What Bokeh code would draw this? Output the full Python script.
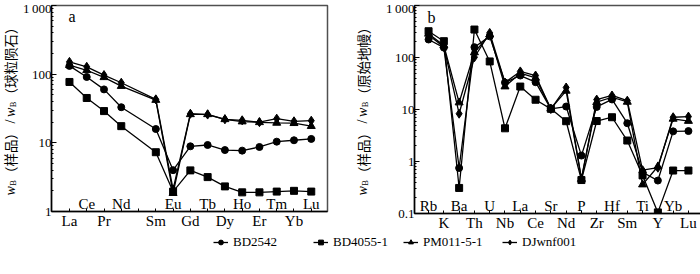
import math
from bokeh.plotting import figure
from bokeh.layouts import row, column
from bokeh.models import Range1d, FixedTicker, Label, Legend, LegendItem
from bokeh.core.properties import value
from bokeh.embed import file_html
from bokeh.resources import INLINE

# ---------------- data ----------------
SERIES = ["BD2542", "BD4055-1", "PM011-5-1", "DJwnf001"]
MARKERS = ["circle", "square", "triangle", "diamond"]
MSIZE = [7, 7, 8, 9]

# panel a: chondrite-normalised REE
REE_AXIS = ["La", "Ce", "Pr", "Nd", "Pm", "Sm", "Eu", "Gd", "Tb", "Dy", "Ho", "Er", "Tm", "Yb", "Lu"]
REE = ["La", "Ce", "Pr", "Nd", "Sm", "Eu", "Gd", "Tb", "Dy", "Ho", "Er", "Tm", "Yb", "Lu"]
REE_LOWER = ["La", "Pr", "Sm", "Gd", "Dy", "Er", "Yb"]
REE_UPPER = ["Ce", "Nd", "Eu", "Tb", "Ho", "Tm", "Lu"]
ree_BD2542 = [132, 91, 60, 33, 15.9, 4.0, 8.9, 9.3, 7.85, 7.7, 8.7, 10.4, 10.9, 11.4]
ree_BD4055 = [77, 45, 29, 17.5, 7.3, 1.95, 3.97, 3.17, 2.32, 1.9, 1.9, 1.95, 2.0, 1.95]
ree_PM011 = [135, 114, 90, 67, 42, 1.85, 26, 26, 22, 20.4, 19.9, 19.5, 19.3, 17.5]
ree_DJwnf = [151, 128, 97, 75, 43, 2.1, 26.5, 25.8, 22, 21.3, 20.0, 22.5, 20.6, 21]
REE_DATA = [ree_BD2542, ree_BD4055, ree_PM011, ree_DJwnf]
YTICKS_A = [1, 10, 100, 1000]

# panel b: primitive-mantle-normalised trace elements
SPIDER = ["Rb", "K", "Ba", "Th", "U", "Nb", "La", "Ce", "Sr", "Nd", "P", "Zr", "Hf", "Sm", "Ti", "Y", "Yb", "Lu"]
SPIDER_UPPER = ["Rb", "Ba", "U", "La", "Sr", "P", "Hf", "Ti", "Yb"]
SPIDER_LOWER = ["K", "Th", "Nb", "Ce", "Nd", "Zr", "Sm", "Y", "Lu"]
sp_BD2542 = [222, 155, 0.75, 158, 255, 33, 45, 33.5, 10.3, 11.4, 1.3, 11.2, 15.6, 5.45, 0.62, 0.43, 3.8, 3.85]
sp_BD4055 = [320, 206, 0.31, 345, 84, 4.35, 27.6, 15.4, 10.3, 5.95, 0.44, 6.0, 7.1, 2.53, 0.54, 0.105, 0.67, 0.67]
sp_PM011 = [285, 170, 13.6, 125, 275, 27.6, 50, 40.5, 10.4, 22.8, 0.46, 13.8, 17.2, 14.0, 0.36, 0.8, 6.6, 6.0]
sp_DJwnf = [270, 160, 8.3, 101, 297, 33, 54, 45, 10.2, 26.5, 0.47, 15.5, 18.6, 14.8, 0.68, 0.76, 7.1, 7.3]
SP_DATA = [sp_BD2542, sp_BD4055, sp_PM011, sp_DJwnf]
YTICKS_B = [0.1, 1, 10, 100, 1000]

SERIF = "Liberation Serif"
CJK = "Noto Sans CJK SC"


def fmt_tick(t):
    if t >= 1000:
        return "1\u2009000"
    return "%g" % t


def minor_ticks(lo, hi):
    out = []
    k = int(round(math.log10(lo)))
    while 10 ** k < hi:
        for m in range(2, 10):
            out.append(m * 10 ** k)
        k += 1
    return out


def make_panel(cats, plotted, lower, upper, data, yticks, xr, fw, fh, left, right, top, bottom):
    p = figure(frame_width=fw, frame_height=fh, x_range=xr,
               y_range=Range1d(yticks[0], yticks[-1]), y_axis_type="log",
               toolbar_location=None, output_backend="svg",
               min_border_left=left, min_border_right=right,
               min_border_top=top, min_border_bottom=bottom)
    p.grid.visible = False
    p.outline_line_color = "#505050"
    p.outline_line_width = 1.5
    p.background_fill_color = "white"
    p.border_fill_color = "white"

    # x axis
    xa = p.xaxis[0]
    xa.ticker = FixedTicker(ticks=list(range(len(cats))))
    xa.major_label_overrides = {i: (c if c in lower else "") for i, c in enumerate(cats)}
    xa.major_tick_in = 3
    xa.major_tick_out = 0
    xa.minor_tick_line_color = None
    xa.axis_line_width = 1.5
    xa.axis_line_color = "black"
    xa.major_label_text_font = SERIF
    xa.major_label_text_font_size = "15px"
    xa.major_label_standoff = 1
    xa.major_label_text_color = "black"

    # y axis
    ya = p.yaxis[0]
    ya.ticker = FixedTicker(ticks=yticks, minor_ticks=minor_ticks(yticks[0], yticks[-1]))
    ya.major_label_overrides = {t: fmt_tick(t) for t in yticks}
    ya.major_tick_in = 5
    ya.major_tick_out = 0
    ya.minor_tick_in = 2
    ya.minor_tick_out = 0
    ya.axis_line_width = 1.5
    ya.axis_line_color = "black"
    ya.major_label_text_font = SERIF
    ya.major_label_text_font_size = "13px"
    ya.major_label_standoff = 0
    ya.major_label_text_color = "black"

    # upper row of category labels (inside the frame)
    ux = [cats.index(c) for c in upper]
    p.text(x=ux, y=[yticks[0]] * len(ux), text=upper,
           text_font=value(SERIF), text_font_size="15px", text_color="black",
           text_align="center", text_baseline="bottom")

    # series
    xs = [cats.index(c) for c in plotted]
    for mk, ms, vals in zip(MARKERS, MSIZE, data):
        p.line(x=xs, y=vals, line_color="black", line_width=1.3)
        p.scatter(x=xs, y=vals, marker=mk, size=ms, fill_color="black",
                  line_color="black", line_width=1)
    return p


def label_strip(width, fh, top, bottom, xc, yc, cjk_text):
    # narrow figure whose frame matches the neighbouring panel's frame;
    # label coordinates are screen px from the frame's bottom-left
    s_fig = figure(width=width, frame_height=fh, x_range=Range1d(0, 1), y_range=Range1d(0, 1),
                   x_axis_location=None, y_axis_location=None, toolbar_location=None,
                   output_backend="svg", min_border_left=0, min_border_right=0,
                   min_border_top=top, min_border_bottom=bottom, outline_line_color=None)
    s_fig.grid.visible = False
    # pieces of "wB（样品）/wB（...）", laid out upward
    pieces = [
        ("w", SERIF, "italic", 14, 9.5, 0),
        ("B", SERIF, "normal", 8.5, 6.0, 2.5),
        ("（样品）", CJK, "normal", 13.5, 13.5 * 4, 0),
        ("/", SERIF, "normal", 14, 9.0, 0),
        ("w", SERIF, "italic", 14, 9.5, 0),
        ("B", SERIF, "normal", 8.5, 6.0, 2.5),
        (cjk_text, CJK, "normal", 13.5, 13.5 * len(cjk_text), 0),
    ]
    total = sum(pc[4] for pc in pieces)
    s = yc - total / 2.0
    for txt, font, style, fs, adv, dx in pieces:
        s_fig.add_layout(Label(x=xc + dx, y=s + adv / 2.0, x_units="screen", y_units="screen",
                               text=txt, angle=math.pi / 2, text_align="center",
                               text_baseline="middle", text_font=font, text_font_style=style,
                               text_font_size="%gpx" % fs, text_color="black"))
        s += adv
    return s_fig


ROW_H = 234
TOP = 5
FH_A, FH_B = 206, 208
BOT_A, BOT_B = ROW_H - TOP - FH_A, ROW_H - TOP - FH_B

pa = make_panel(REE_AXIS, REE, REE_LOWER, REE_UPPER, REE_DATA, YTICKS_A,
                Range1d(-1.04, 14.94), 276, FH_A, 29, 24, TOP, BOT_A)
pb = make_panel(SPIDER, SPIDER, SPIDER_LOWER, SPIDER_UPPER, SP_DATA, YTICKS_B,
                Range1d(-0.92, 17.92), 288, FH_B, 41, 1, TOP, BOT_B)

# label centre at y = 107.5 px from the top of the picture
sa = label_strip(19, FH_A, TOP, BOT_A, 9.75, (TOP + FH_A) - 107.5, "（球粒陨石）")
sb = label_strip(22, FH_B, TOP, BOT_B, 11, (TOP + FH_B) - 107.5, "（原始地幔）")

pa.add_layout(Label(x=17, y=FH_A - 11, x_units="screen", y_units="screen", text="a",
                    text_font=SERIF, text_font_size="16px", text_baseline="middle",
                    text_color="black"))
pb.add_layout(Label(x=13, y=FH_B - 11.5, x_units="screen", y_units="screen", text="b",
                    text_font=SERIF, text_font_size="16px", text_baseline="middle",
                    text_color="black"))

# legend strip
LEG_H = 274 - ROW_H
pl = figure(width=700, height=LEG_H, x_range=Range1d(0, 1), y_range=Range1d(0, 1),
            x_axis_location=None, y_axis_location=None, toolbar_location=None,
            output_backend="svg", min_border=0, outline_line_color=None)
pl.grid.visible = False
LEGEND_X = [213, 313, 403, 502]
for name, mk, ms, lx in zip(SERIES, MARKERS, MSIZE, LEGEND_X):
    # renderers used only for the legend swatch (their point lies outside the view)
    lr = pl.line(x=[-5, -4], y=[-5, -4], line_color="black", line_width=1.3)
    sr = pl.scatter(x=[-5], y=[-5], marker=mk, size=ms - 1, fill_color="black", line_color="black")
    leg = Legend(items=[LegendItem(label=name, renderers=[lr, sr])], location=(lx, LEG_H - 9 - 7),
                 orientation="horizontal", padding=0, margin=0, spacing=0,
                 glyph_width=15, glyph_height=12, label_height=14, label_standoff=5,
                 label_text_font=SERIF, label_text_font_size="13px",
                 label_text_color="black", border_line_color=None,
                 background_fill_alpha=0)
    pl.add_layout(leg)

layout = column(row(sa, pa, sb, pb), pl)
open("out.html", "w").write(file_html(layout, INLINE))
